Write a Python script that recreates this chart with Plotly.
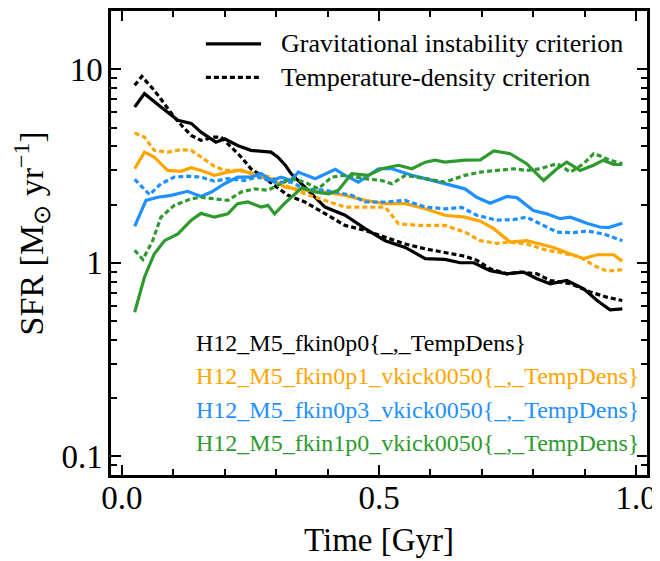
import numpy as np
import plotly.graph_objects as go

# Star formation rate (Msun/yr) vs time (Gyr).
# "grav" = gravitational instability criterion (solid), "td" = temperature-density (dotted)
t_fkin0p0_grav = [0.025, 0.044, 0.076, 0.109, 0.135, 0.154, 0.183, 0.2, 0.225, 0.251, 0.29, 0.303,
                  0.318, 0.329, 0.356, 0.395, 0.434, 0.473, 0.512, 0.551, 0.59, 0.628, 0.658, 0.684,
                  0.716, 0.749, 0.781, 0.807, 0.833, 0.865, 0.898, 0.924, 0.949, 0.973]
sfr_fkin0p0_grav = [6.38, 7.48, 6.38, 5.45, 5.25, 4.73, 4.20, 4.37, 4.04, 3.81, 3.73, 3.52,
                    3.19, 2.89, 2.46, 1.94, 1.76, 1.50, 1.30, 1.20, 1.05, 1.04, 1.0, 1.0,
                    0.91, 0.877, 0.894, 0.827, 0.779, 0.81, 0.734, 0.638, 0.571, 0.578]

t_fkin0p0_td = [0.025, 0.039, 0.063, 0.083, 0.102, 0.119, 0.135, 0.154, 0.18, 0.193, 0.213, 0.232,
                0.251, 0.271, 0.297, 0.323, 0.356, 0.395, 0.434, 0.473, 0.512, 0.551, 0.59, 0.628,
                0.667, 0.69, 0.716, 0.749, 0.775, 0.807, 0.833, 0.872, 0.911, 0.943, 0.973]
sfr_fkin0p0_td = [8.26, 9.18, 7.79, 6.64, 5.66, 5.03, 4.55, 4.29, 4.46, 4.46, 3.96, 3.52,
                  3.06, 2.83, 2.51, 2.23, 2.06, 1.79, 1.56, 1.47, 1.36, 1.25, 1.18, 1.13,
                  1.08, 1.03, 0.93, 0.877, 0.894, 0.877, 0.81, 0.779, 0.705, 0.664, 0.638]

t_fkin0p1_grav = [0.025, 0.044, 0.063, 0.089, 0.115, 0.135, 0.154, 0.18, 0.206, 0.232, 0.258, 0.29,
                  0.318, 0.356, 0.395, 0.434, 0.473, 0.512, 0.551, 0.59, 0.628, 0.667, 0.697, 0.723,
                  0.755, 0.787, 0.813, 0.839, 0.872, 0.898, 0.924, 0.956, 0.973]
sfr_fkin0p1_grav = [3.06, 3.73, 3.52, 3.0, 2.97, 3.10, 3.0, 2.83, 2.94, 3.02, 2.83, 2.72,
                    2.46, 2.37, 2.32, 2.23, 2.10, 2.02, 2.02, 1.90, 1.76, 1.72, 1.64, 1.50,
                    1.28, 1.30, 1.25, 1.20, 1.11, 1.05, 1.10, 1.10, 1.02]

t_fkin0p1_td = [0.025, 0.044, 0.063, 0.089, 0.115, 0.135, 0.154, 0.18, 0.2, 0.225, 0.258, 0.29,
                0.318, 0.356, 0.395, 0.434, 0.473, 0.512, 0.538, 0.577, 0.628, 0.667, 0.697, 0.729,
                0.755, 0.787, 0.826, 0.852, 0.891, 0.917, 0.943, 0.973]
sfr_fkin0p1_td = [4.68, 4.46, 3.81, 3.73, 3.84, 3.81, 3.52, 3.15, 3.0, 3.0, 2.89, 2.77,
                  2.51, 2.27, 2.10, 1.94, 1.94, 1.94, 1.59, 1.56, 1.56, 1.44, 1.30, 1.26,
                  1.28, 1.25, 1.16, 1.13, 1.07, 0.97, 0.905, 0.92]

t_fkin0p3_grav = [0.025, 0.047, 0.07, 0.096, 0.128, 0.154, 0.174, 0.2, 0.225, 0.251, 0.271, 0.29,
                  0.31, 0.329, 0.343, 0.376, 0.415, 0.434, 0.46, 0.499, 0.525, 0.564, 0.59, 0.628,
                  0.667, 0.69, 0.716, 0.749, 0.768, 0.8, 0.826, 0.852, 0.872, 0.904, 0.929, 0.946,
                  0.973]
sfr_fkin0p3_grav = [1.54, 2.10, 2.18, 2.23, 2.34, 2.20, 2.32, 2.56, 2.77, 2.77, 2.89, 2.66,
                    2.77, 2.66, 2.94, 2.72, 3.04, 2.83, 2.61, 3.06, 3.06, 2.83, 2.72, 2.56,
                    2.41, 2.18, 2.03, 2.20, 2.17, 1.86, 1.79, 1.69, 1.72, 1.60, 1.53, 1.52,
                    1.60]

t_fkin0p3_td = [0.025, 0.054, 0.076, 0.102, 0.128, 0.154, 0.18, 0.206, 0.238, 0.264, 0.297, 0.329,
                0.356, 0.395, 0.447, 0.473, 0.512, 0.551, 0.59, 0.628, 0.661, 0.69, 0.729, 0.761,
                0.787, 0.82, 0.846, 0.878, 0.904, 0.936, 0.973]
sfr_fkin0p3_td = [2.70, 2.25, 2.56, 2.77, 2.80, 2.77, 2.64, 2.72, 2.66, 2.77, 2.61, 2.61,
                  2.41, 2.37, 2.23, 2.06, 2.06, 2.10, 1.94, 1.90, 1.93, 1.76, 1.66, 1.67,
                  1.72, 1.56, 1.44, 1.43, 1.46, 1.41, 1.30]

t_fkin1p0_grav = [0.025, 0.044, 0.063, 0.083, 0.109, 0.135, 0.154, 0.18, 0.206, 0.225, 0.245, 0.271,
                  0.284, 0.297, 0.316, 0.35, 0.376, 0.402, 0.421, 0.447, 0.479, 0.505, 0.538, 0.564,
                  0.59, 0.609, 0.628, 0.667, 0.697, 0.723, 0.755, 0.787, 0.82, 0.846, 0.865, 0.891,
                  0.917, 0.936, 0.956, 0.973]
sfr_fkin1p0_grav = [0.555, 0.842, 1.11, 1.30, 1.41, 1.66, 1.80, 1.72, 1.79, 2.02, 2.06, 1.94,
                    1.98, 1.79, 2.02, 2.44, 2.32, 2.27, 2.37, 2.89, 2.83, 3.06, 3.19, 3.06,
                    3.31, 3.39, 3.31, 3.39, 3.40, 3.78, 3.66, 3.25, 2.66, 3.06, 3.31, 3.0,
                    3.19, 3.39, 3.22, 3.22]

t_fkin1p0_td = [0.025, 0.041, 0.06, 0.076, 0.102, 0.135, 0.154, 0.18, 0.206, 0.232, 0.258, 0.284,
                0.303, 0.329, 0.356, 0.382, 0.408, 0.434, 0.473, 0.505, 0.525, 0.551, 0.59, 0.628,
                0.667, 0.697, 0.729, 0.761, 0.787, 0.813, 0.846, 0.872, 0.898, 0.917, 0.929, 0.949,
                0.973]
sfr_fkin1p0_td = [1.16, 1.04, 1.30, 1.72, 1.98, 2.14, 2.18, 2.14, 2.10, 2.32, 2.41, 2.37,
                  2.51, 2.72, 2.61, 2.41, 2.77, 2.83, 2.72, 2.66, 2.56, 2.83, 2.72, 2.61,
                  2.83, 2.94, 3.0, 3.06, 3.0, 3.06, 3.25, 2.94, 3.25, 3.66, 3.57, 3.39,
                  3.25]

run_names = [
    "H12_M5_fkin0p0{_,_TempDens}",
    "H12_M5_fkin0p1_vkick0050{_,_TempDens}",
    "H12_M5_fkin0p3_vkick0050{_,_TempDens}",
    "H12_M5_fkin1p0_vkick0050{_,_TempDens}",
]
run_colors = ["#000000", "#FFA500", "#1E90FF", "#2E9A2E"]
criteria = ["Gravitational instability criterion", "Temperature-density criterion"]

x_tickvals = [0.0, 0.5, 1.0]
x_ticktext = ["0.0", "0.5", "1.0"]
y_tickvals = [0.1, 1, 10]
y_ticktext = ["0.1", "1", "10"]

runs = [
    (t_fkin0p0_grav, sfr_fkin0p0_grav, t_fkin0p0_td, sfr_fkin0p0_td),
    (t_fkin0p1_grav, sfr_fkin0p1_grav, t_fkin0p1_td, sfr_fkin0p1_td),
    (t_fkin0p3_grav, sfr_fkin0p3_grav, t_fkin0p3_td, sfr_fkin0p3_td),
    (t_fkin1p0_grav, sfr_fkin1p0_grav, t_fkin1p0_td, sfr_fkin1p0_td),
]

FONT = "Liberation Serif, serif"
DOT = "5px,3px"
X_RANGE = [-0.021, 1.021]
Y_RANGE = [np.log10(0.08), np.log10(20)]
X_MINOR = [k / 10 for k in range(1, 10)]
Y_MINOR = [m * 10.0 ** e for e in (-2, -1, 0, 1) for m in range(2, 10)]

fig = go.Figure()
for (tg, sg, tt, st), color in zip(runs, run_colors):
    fig.add_trace(go.Scatter(x=tg, y=sg, mode="lines",
                             line=dict(color=color, width=3.2), showlegend=False))
    fig.add_trace(go.Scatter(x=tt, y=st, mode="lines",
                             line=dict(color=color, width=3.2, dash=DOT), showlegend=False))
# invisible trace so the overlay axes (only used for the minor ticks) get drawn
fig.add_trace(go.Scatter(x=[0.5], y=[1], xaxis="x2", yaxis="y2", mode="markers",
                         marker=dict(opacity=0), showlegend=False, hoverinfo="skip"))

# Legend for line styles, drawn by hand so the samples are as long as in the original.
for i, (label, dash) in enumerate(zip(criteria, ["solid", DOT])):
    yy = 0.929 - i * 0.072
    fig.add_shape(type="line", xref="paper", yref="paper", x0=0.177, x1=0.28, y0=yy, y1=yy,
                  line=dict(color="black", width=3.2, dash=dash))
    fig.add_annotation(x=0.313, y=yy, xref="paper", yref="paper", text=label, showarrow=False,
                       xanchor="left", yanchor="middle", font=dict(family=FONT, size=26, color="black"))

# Run names, coloured like their lines.
for i, (name, color) in enumerate(zip(run_names, run_colors)):
    fig.add_annotation(x=0.155, y=0.284 - i * 0.0717, xref="paper", yref="paper", text=name,
                       showarrow=False, xanchor="left", yanchor="middle",
                       font=dict(family=FONT, size=24, color=color))

# Axis titles as annotations so they sit exactly where the original puts them.
fig.add_annotation(x=0.5, y=-0.14, xref="paper", yref="paper", text="Time [Gyr]",
                   showarrow=False, xanchor="center", yanchor="middle",
                   font=dict(family=FONT, size=33, color="black"))
fig.add_annotation(x=-0.148, y=0.52, xref="paper", yref="paper",
                   text="SFR [M<sub>⊙</sub> yr<sup>−1</sup>]", textangle=-90,
                   showarrow=False, xanchor="center", yanchor="middle",
                   font=dict(family=FONT, size=34, color="black"))

axis_style = dict(
    showline=True, linecolor="black", linewidth=2.5, mirror="allticks",
    ticks="inside", showgrid=False, zeroline=False,
)
major = dict(ticklen=10, tickwidth=2, tickcolor="black",
             tickfont=dict(family=FONT, size=33, color="black"))
minor_ticks = dict(ticks="inside", ticklen=6, tickwidth=2, tickcolor="black")
minor = dict(ticklen=6, tickwidth=2, tickcolor="black", showticklabels=False)

# minor ticks come from the main axes' minor setting and from overlay axes on the
# opposite side, so that all four edges carry them
fig.update_layout(
    xaxis=dict(**axis_style, **major, range=X_RANGE,
               tickvals=x_tickvals, ticktext=x_ticktext, ticklabelstandoff=-8,
               minor=dict(**minor_ticks, tick0=0, dtick=0.1)),
    yaxis=dict(**axis_style, **major, type="log", range=Y_RANGE,
               tickvals=y_tickvals, ticktext=y_ticktext, ticklabelstandoff=-1,
               minor=dict(**minor_ticks, dtick="D1")),
    xaxis2=dict(**axis_style, **minor, overlaying="x", anchor="y2", side="top",
                range=X_RANGE, tickvals=X_MINOR),
    yaxis2=dict(**axis_style, **minor, overlaying="y", anchor="x2", side="right",
                type="log", range=Y_RANGE, tickvals=Y_MINOR),
)

# the page body adds an 8 px offset, so the figure is a little smaller than the window
fig.update_layout(
    width=652, height=553,
    margin=dict(l=103, r=13, t=3, b=86, autoexpand=False),
    plot_bgcolor="white", paper_bgcolor="white",
    font=dict(family=FONT, color="black"),
    template="none",
)

fig.write_html("out.html")
